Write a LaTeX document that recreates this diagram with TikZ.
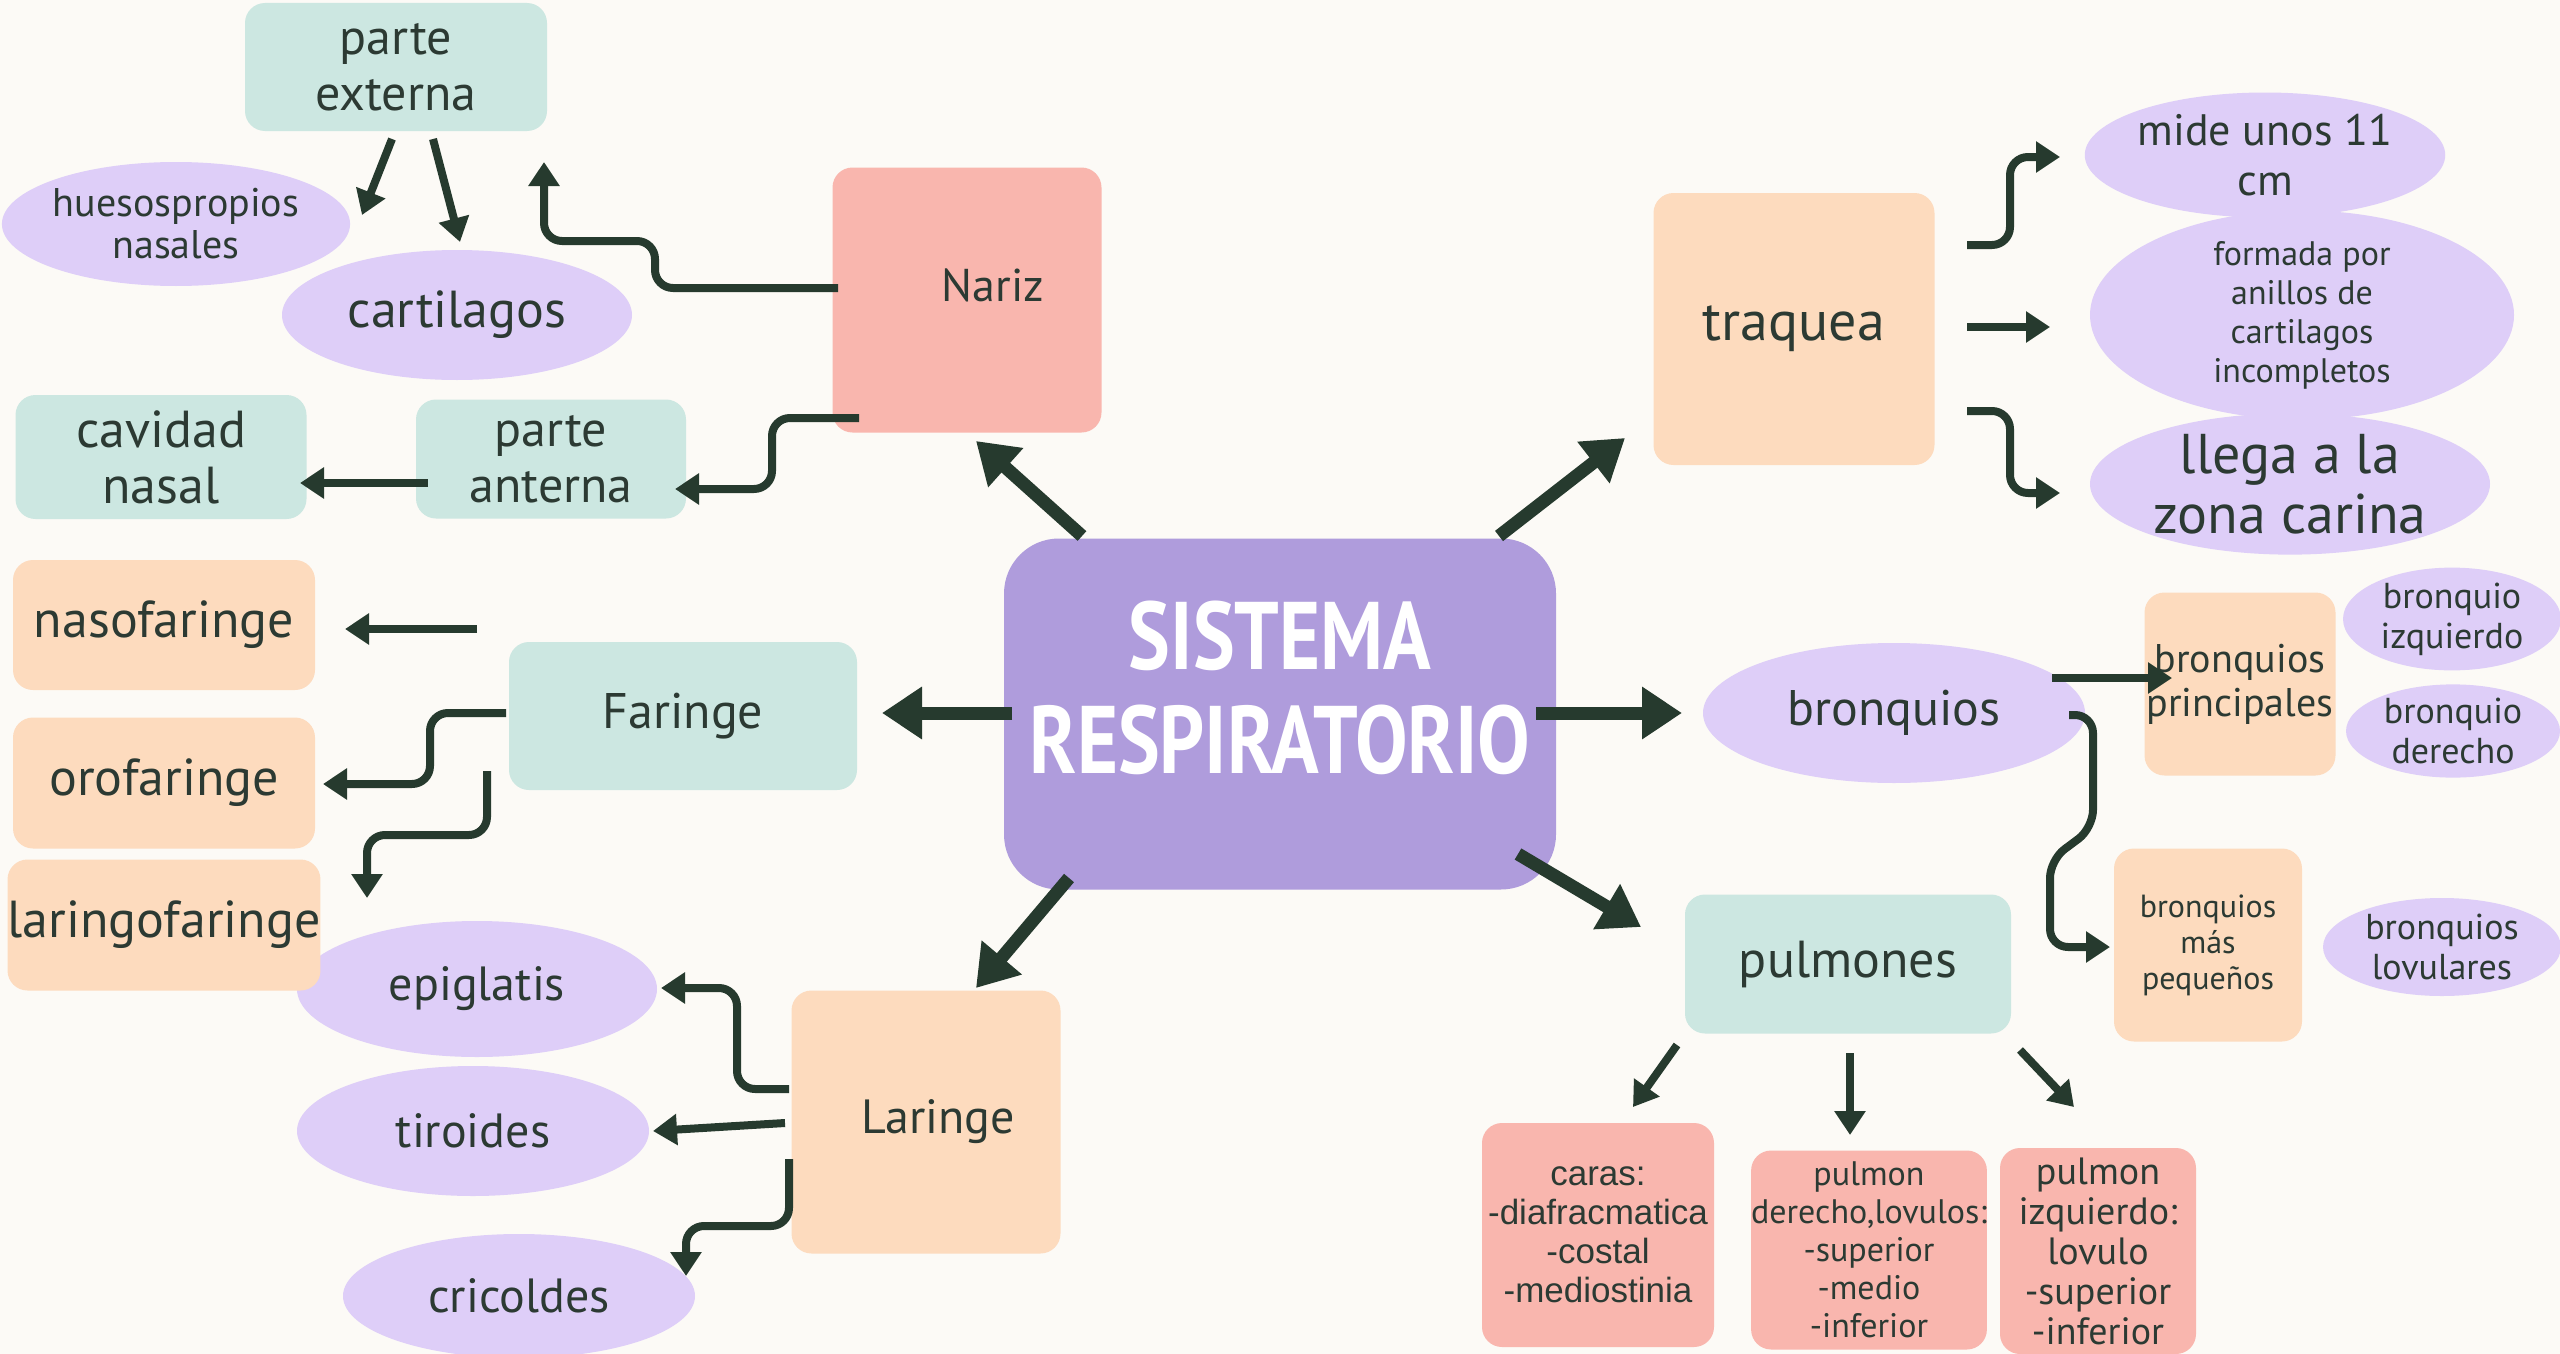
\documentclass[tikz,border=0pt]{standalone}
\usepackage{fontspec}
\setmainfont{PT Sans}
\newfontfamily\arialf{Liberation Sans}
\usetikzlibrary{shapes.geometric,arrows.meta}
\definecolor{bgc}{HTML}{FCFAF6}
\definecolor{tealc}{HTML}{CCE7E1}
\definecolor{pinkc}{HTML}{F9B6AE}
\definecolor{peachc}{HTML}{FDDBBE}
\definecolor{lavc}{HTML}{DECEF8}
\definecolor{purpc}{HTML}{AF9CDC}
\definecolor{arrc}{HTML}{263A2E}
\definecolor{inkc}{HTML}{2C3A33}
\newcommand\fz[2]{\fontsize{#1}{#2}\selectfont}
\begin{document}
\begin{tikzpicture}[x=1pt,y=-1pt,
  box/.style={rounded corners=20pt, inner sep=0pt, align=center, text=inkc},
  tealb/.style={box, fill=tealc},
  pinkb/.style={box, fill=pinkc},
  peachb/.style={box, fill=peachc},
  ell/.style={ellipse, fill=lavc, inner sep=0pt, align=center, text=inkc},
  big/.style={draw=arrc, line width=13pt, -{Triangle[length=40pt,width=50pt]}},
  sm/.style={draw=arrc, line width=8pt, rounded corners=18pt, line join=round, -{Triangle[length=24pt,width=30pt]}}]
\useasboundingbox[fill=bgc] (0,0) rectangle (2560,1354);

% ---- central node
\node[box, fill=purpc, rounded corners=55pt, minimum width=552pt, minimum height=351pt,
  label={[yshift=26pt, text=white, align=center, font=\fz{96}{104}\bfseries]center:\scalebox{0.82}[1]{SISTEMA}\\\scalebox{0.82}[1]{RESPIRATORIO}}] (sis) at (1280,714) {};

% ---- nariz branch
\node[tealb, minimum width=302pt, minimum height=128pt, font=\fz{50}{56}] (pext) at (396,67) {parte\\externa};
\node[ell, minimum width=344pt, minimum height=124pt, font=\fz{40}{42}] (hues) at (176,224) {huesospropios\\nasales};
\node[ell, minimum width=350pt, minimum height=130pt, font=\fz{52}{56}] (cart) at (457,315) {cartilagos};
\node[pinkb, minimum width=269pt, minimum height=265pt,
  label={[xshift=26pt, yshift=15pt, text=inkc, font=\fz{46}{50}]center:Nariz}] (nariz) at (967,300) {};
\node[tealb, minimum width=291pt, minimum height=124pt, font=\fz{52}{56}] (cav) at (161,457) {cavidad\\nasal};
\node[tealb, minimum width=270pt, minimum height=119pt, font=\fz{50}{56}] (pant) at (551,459) {parte\\anterna};

% ---- traquea branch
\node[peachb, minimum width=281pt, minimum height=272pt, font=\fz{56}{60}] (traq) at (1794,329) {traquea};
\node[ell, minimum width=350pt, minimum height=125pt, font=\fz{44}{50}] (mide) at (2265,155) {mide unos 11\\cm};
\node[ell, minimum width=424pt, minimum height=156pt, font=\fz{34}{39}] (form) at (2302,315) {formada por\\anillos de\\cartilagos\\incompletos};
\node[ell, minimum width=400pt, minimum height=140pt, font=\fz{56}{60}] (llega) at (2290,484) {llega a la\\zona carina};

% ---- faringe branch
\node[tealb, minimum width=348pt, minimum height=148pt, font=\fz{50}{56}] (far) at (683,716) {Faringe};
\node[peachb, minimum width=302pt, minimum height=130pt, font=\fz{52}{56}] (naso) at (164,625) {nasofaringe};
\node[peachb, minimum width=302pt, minimum height=131pt, font=\fz{52}{56}] (oro) at (164,783) {orofaringe};
\node[ell, minimum width=360pt, minimum height=136pt, font=\fz{48}{52}] (epi) at (477,989) {epiglatis};
\node[peachb, minimum width=302pt, minimum height=131pt, font=\fz{52}{56}] (larf) at (164,925) {laringofaringe};

% ---- laringe branch
\node[peachb, minimum width=269pt, minimum height=263pt,
  label={[xshift=12pt, text=inkc, font=\fz{48}{52}]center:Laringe}] (lar) at (926,1122) {};
\node[ell, minimum width=352pt, minimum height=130pt, font=\fz{48}{52}] (tir) at (473,1131) {tiroides};
\node[ell, minimum width=352pt, minimum height=124pt, font=\fz{48}{52}] (cri) at (519,1296) {cricoldes};

% ---- bronquios branch
\node[ell, minimum width=382pt, minimum height=140pt, font=\fz{50}{56}] (bron) at (1894,713) {bronquios};
\node[peachb, minimum width=191pt, minimum height=183pt, font=\fz{40}{44}] (bprin) at (2240,684) {bronquios\\principales};
\node[ell, minimum width=218pt, minimum height=96pt, font=\fz{36}{40}] (bizq) at (2452,619) {bronquio\\izquierdo};
\node[ell, minimum width=214pt, minimum height=92pt, font=\fz{36}{40}] (bder) at (2453,731) {bronquio\\derecho};
\node[peachb, minimum width=188pt, minimum height=193pt, font=\fz{32}{36}] (bpeq) at (2208,945) {bronquios\\más\\pequeños};
\node[ell, minimum width=238pt, minimum height=98pt, font=\fz{36}{40}] (blov) at (2442,947) {bronquios\\lovulares};

% ---- pulmones branch
\node[tealb, minimum width=326pt, minimum height=139pt, font=\fz{52}{56}] (pulm) at (1848,964) {pulmones};
\node[pinkb, minimum width=232pt, minimum height=224pt, font=\arialf\fz{35}{39}] (caras) at (1598,1235) {caras:\\-diafracmatica\\-costal\\-mediostinia};
\node[pinkb, minimum width=222pt, minimum height=199pt, font=\fz{34}{38}] (pder) at (1869,1250) {pulmon\\derecho,lovulos:\\-superior\\-medio\\-inferior};
\node[pinkb, minimum width=196pt, minimum height=206pt, font=\fz{38}{40}] (pizq) at (2098,1251) {pulmon\\izquierdo:\\lovulo\\-superior\\-inferior};

% ---- connector end points
\coordinate (c1a) at (1082,536); \coordinate (c1b) at (976,441);
\coordinate (c2a) at (1499,536); \coordinate (c2b) at (1625,438);
\coordinate (c3a) at (1012,713); \coordinate (c3b) at (882,713);
\coordinate (c4a) at (1536,713); \coordinate (c4b) at (1682,713);
\coordinate (c5a) at (1069,878); \coordinate (c5b) at (976,988);
\coordinate (c6a) at (1518,854); \coordinate (c6b) at (1641,927);

% big arrows from the centre
\draw[big] (c1a) -- (c1b);
\draw[big] (c2a) -- (c2b);
\draw[big] (c3a) -- (c3b);
\draw[big] (c4a) -- (c4b);
\draw[big] (c5a) -- (c5b);
\draw[big] (c6a) -- (c6b);

% nariz
\draw[sm] (392,139) -- (362,215);
\draw[sm] (433,139) -- (460,242);
\draw[sm] (838,288) -- (655,288) -- (655,241) -- (544,241) -- (544,162);
\draw[sm] (859,418) -- (772,418) -- (772,489) -- (675,489);
\draw[sm] (428,483) -- (300,483);

% traquea
\draw[sm] (1967,245) -- (2010,245) -- (2010,157) -- (2060,157);
\draw[sm] (1967,327) -- (2050,327);
\draw[sm] (1967,411) -- (2010,411) -- (2010,493) -- (2060,493);

% faringe
\draw[sm] (477,629) -- (345,629);
\draw[sm] (506,713) -- (430,713) -- (430,784) -- (323,784);
\draw[sm] (487,771) -- (487,835) -- (367,835) -- (367,898);

% laringe
\draw[sm] (789,1089) -- (737,1089) -- (737,988) -- (661,988);
\draw[sm] (785,1123) -- (653,1131);
\draw[sm] (789,1159) -- (789,1226) -- (686,1226) -- (686,1276);

% bronquios
\draw[sm] (2052,678) -- (2172,678);
\draw[sm] (2069,715) -- (2093,715) -- (2093,828) -- (2050,860) -- (2050,947) -- (2110,947);

% pulmones
\draw[sm] (1677,1045) -- (1633,1107);
\draw[sm] (1850,1053) -- (1850,1135);
\draw[sm] (2020,1050) -- (2074,1107);
\end{tikzpicture}
\end{document}
